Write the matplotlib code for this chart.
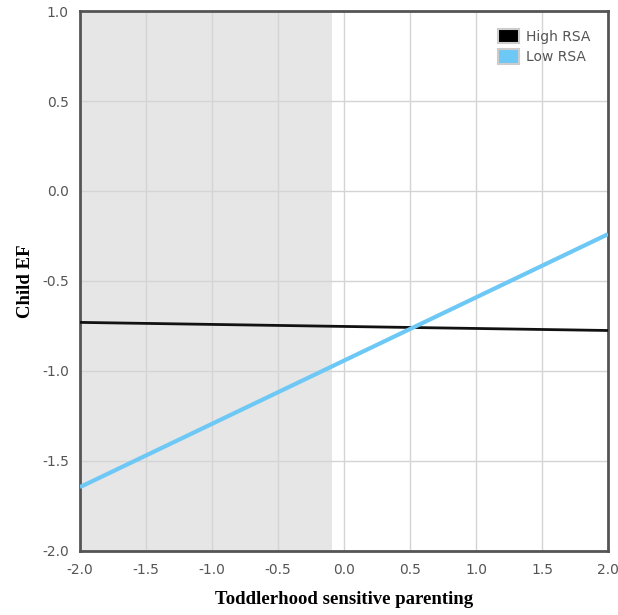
import numpy as np
import matplotlib
matplotlib.use('Agg')
import matplotlib.pyplot as plt
from matplotlib.patches import Patch

# x range of the simple slopes and the predicted child EF at both ends
x_ends = [-2.0, 2.0]
high_rsa = [-0.73, -0.775]
low_rsa = [-1.645, -0.24]
# region of significance (shaded)
shade_from = -2.0
shade_to = -0.09

xticks = [-2.0, -1.5, -1.0, -0.5, 0.0, 0.5, 1.0, 1.5, 2.0]
yticks = [-2.0, -1.5, -1.0, -0.5, 0.0, 0.5, 1.0]

fig = plt.figure(figsize=(6.18, 6.15), dpi=100)
ax = fig.add_axes([0.1294, 0.1041, 0.8544, 0.878])

ax.axvspan(shade_from, shade_to, color='#e6e6e6', zorder=0, lw=0)
ax.set_axisbelow(True)
ax.grid(True, color='#d4d4d4', lw=1)

ax.plot(x_ends, high_rsa, color='#111111', lw=2, solid_capstyle='butt', zorder=3)
ax.plot(x_ends, low_rsa, color='#6ec8f5', lw=3, solid_capstyle='butt', zorder=3)

ax.set_xlim(-2, 2)
ax.set_ylim(-2, 1)
ax.set_xticks(xticks)
ax.set_yticks(yticks)
ax.set_xticklabels(['{:.1f}'.format(v) for v in xticks])
ax.set_yticklabels(['{:.1f}'.format(v) for v in yticks])
ax.tick_params(length=0, labelsize=10, colors='#555555')
ax.tick_params(axis='x', pad=9)
ax.tick_params(axis='y', pad=8)

for s in ax.spines.values():
    s.set_color('#555555')
    s.set_linewidth(2)

ax.set_xlabel('Toddlerhood sensitive parenting', family='Liberation Serif',
              fontweight='bold', fontsize=13.5, labelpad=10)
ax.set_ylabel('Child EF', family='Liberation Serif', fontweight='bold',
              fontsize=13.5, labelpad=6)

handles = [Patch(facecolor='black', edgecolor='#cccccc', lw=1.5),
           Patch(facecolor='#6ec8f5', edgecolor='#cccccc', lw=1.5)]
leg = ax.legend(handles, ['High RSA', 'Low RSA'], loc='upper right',
                frameon=False, fontsize=10, handlelength=1.5, handleheight=1.2,
                handletextpad=0.5, labelspacing=0.4, borderaxespad=0.9)
for t in leg.get_texts():
    t.set_color('#555555')

fig.savefig('out.png', dpi=100)
